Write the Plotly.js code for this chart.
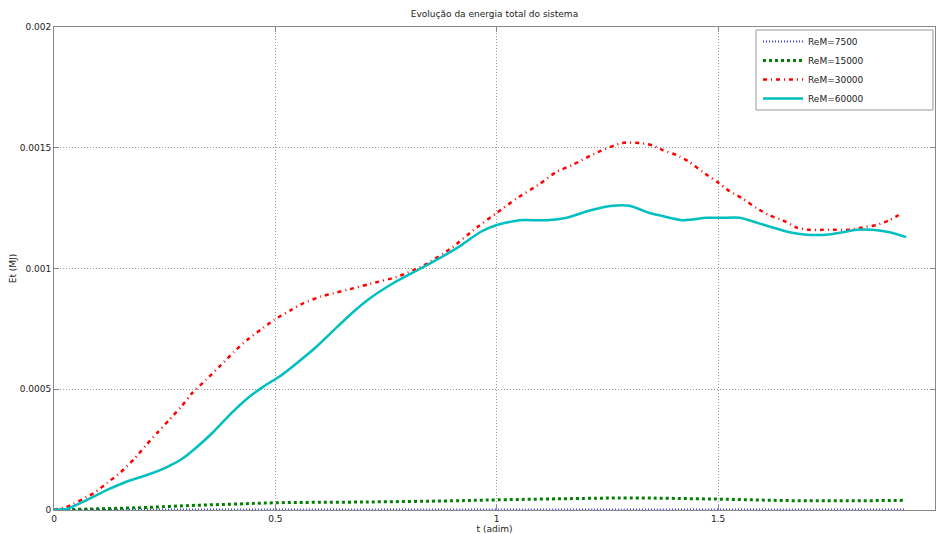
<!DOCTYPE html>
<html><head><meta charset="utf-8">
<script src="https://cdn.plot.ly/plotly-3.0.1.min.js"></script>
<style>body{margin:0;background:#fff}#c{width:936px;height:534px}</style>
</head><body><div id="c"></div>
<script>
const tRed = [0,0.023,0.09,0.12,0.151,0.181,0.208,0.233,0.26,0.287,0.312,0.343,0.377,0.406,0.436,0.467,0.497,0.535,0.564,0.603,0.632,0.661,0.713,0.774,0.833,0.894,0.955,1.0,1.045,1.097,1.135,1.172,1.226,1.284,1.323,1.352,1.375,1.406,1.436,1.465,1.497,1.526,1.555,1.587,1.616,1.646,1.677,1.707,1.736,1.767,1.797,1.826,1.858,1.887,1.916];
const re30000 = [0,0.0000083,0.00007,0.000112,0.000157,0.000211,0.000269,0.000319,0.000373,0.000427,0.000484,0.000538,0.0006,0.000654,0.000704,0.000747,0.000787,0.000828,0.000857,0.000884,0.000898,0.000911,0.000936,0.000965,0.00101,0.00108,0.00117,0.00123,0.00129,0.00135,0.0014,0.00143,0.00148,0.00152,0.00152,0.00151,0.00149,0.00147,0.00144,0.0014,0.00136,0.00132,0.00129,0.00125,0.00122,0.0012,0.00117,0.00116,0.00116,0.00116,0.00116,0.00117,0.00118,0.0012,0.00123];
const tCyan = [0,0.029,0.074,0.12,0.165,0.21,0.255,0.287,0.323,0.361,0.399,0.436,0.474,0.512,0.549,0.594,0.639,0.677,0.707,0.765,0.826,0.878,0.923,0.962,1.0,1.052,1.113,1.158,1.21,1.262,1.3,1.345,1.368,1.42,1.474,1.51,1.549,1.587,1.623,1.661,1.7,1.745,1.781,1.813,1.849,1.887,1.925];
const re60000 = [0,0.0000041,0.000041,0.000083,0.000118,0.000145,0.000178,0.000209,0.000261,0.000325,0.000398,0.000461,0.000512,0.000556,0.000609,0.000678,0.000757,0.000822,0.000868,0.000938,0.000998,0.00105,0.0011,0.00115,0.00118,0.0012,0.0012,0.00121,0.00124,0.00126,0.00126,0.00123,0.00122,0.0012,0.00121,0.00121,0.00121,0.00119,0.00117,0.00115,0.00114,0.00114,0.00115,0.00116,0.00116,0.00115,0.00113];
const tLow = [0,0.1,0.2,0.3,0.4,0.5,0.7,0.9,1.0,1.2,1.3,1.5,1.7,1.92];
const re15000 = [0,0.000005,0.00001,0.000018,0.000024,0.00003,0.000033,0.000038,0.000042,0.000048,0.00005,0.000045,0.000038,0.00004];
const re7500 = [0,0.000001,0.000002,0.000002,0.000002,0.000002,0.000002,0.000002,0.000002,0.000002,0.000002,0.000002,0.000002,0.000002];
const names = ['ReM=7500','ReM=15000','ReM=30000','ReM=60000'];
const xTicks = [0,0.5,1,1.5];
const xTickText = ['0','0.5','1','1.5'];
const yTicks = [0,0.0005,0.001,0.0015,0.002];
const yTickText = ['0','0.0005','0.001','0.0015','0.002'];

const traces = [
 {x:tLow,y:re7500,name:names[0],mode:'lines',line:{color:'#3a3aff',width:2,dash:'1px,2px',shape:'spline'}},
 {x:tLow,y:re15000,name:names[1],mode:'lines',line:{color:'#008000',width:3,dash:'3px,3px',shape:'spline'}},
 {x:tRed,y:re30000,name:names[2],mode:'lines',line:{color:'#ff0000',width:2.5,dash:'4px,4px,1px,4px',shape:'spline',smoothing:0.6}},
 {x:tCyan,y:re60000,name:names[3],mode:'lines',line:{color:'#00bfbf',width:2.5,shape:'spline',smoothing:0.6}}
];
const ax = {showline:true,mirror:'ticks',linecolor:'#888',linewidth:1,ticks:'inside',ticklen:5,tickcolor:'#888',
  gridcolor:'#999',griddash:'1px,2px',gridwidth:1,zeroline:false,tickfont:{size:9,color:'#222'}};
const pw = 881, ph = 483;
const layout = {
 width:936,height:534,margin:{l:54,r:1,t:27,b:24},
 paper_bgcolor:'#fff',plot_bgcolor:'#fff',
 font:{family:'DejaVu Sans, sans-serif',size:9,color:'#222'},
 title:{text:'Evolução da energia total do sistema',font:{size:9},x:0.5,xref:'paper',y:0.975,yanchor:'middle'},
 xaxis:Object.assign({},ax,{range:[0,1.99],tickvals:xTicks,ticktext:xTickText,automargin:false,
   title:{text:'t (adim)',font:{size:9},standoff:0}}),
 yaxis:Object.assign({},ax,{range:[0,0.002],tickvals:yTicks,ticktext:yTickText,automargin:false,
   title:{text:'Et (MJ)',font:{size:9}}}),
 shapes:[
  {type:'rect',xref:'paper',yref:'paper',layer:'above',
   x0:(756-54)/pw,x1:(933-54)/pw,y0:(510-110)/ph,y1:(510-30)/ph,line:{width:0},fillcolor:'#fff'},
  {type:'rect',xref:'paper',yref:'paper',layer:'above',
   x0:(756-54)/pw,x1:(933-54)/pw,y0:(510-110)/ph,y1:(510-30)/ph,
   line:{color:'#999',width:1},fillcolor:'rgba(255,255,255,0)'}],
 legend:{x:(758-54)/pw,xanchor:'left',y:(510-27)/ph,yanchor:'top',bgcolor:'rgba(0,0,0,0)',borderwidth:0,
   font:{size:9},tracegroupgap:0,itemwidth:40},
 showlegend:true
};
Plotly.newPlot('c',traces,layout,{displayModeBar:false}).then(function(gd){
  var yt = gd.querySelector('.ytitle');
  if (yt) {
    var b = yt.getBoundingClientRect();
    var dx = 13 - (b.left + b.width/2);
    yt.setAttribute('transform', 'translate(' + dx + ',0) ' + (yt.getAttribute('transform')||''));
  }
});
</script></body></html>
